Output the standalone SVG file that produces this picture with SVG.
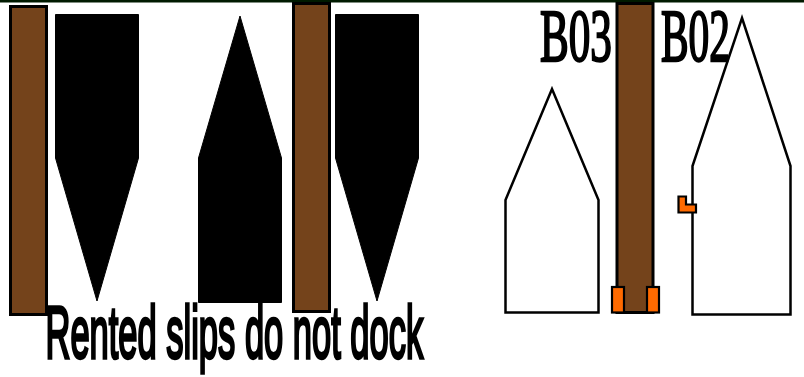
<svg xmlns="http://www.w3.org/2000/svg" width="804" height="377" viewBox="0 0 804 377">
<style>
.pier{fill:#74431b;stroke:#000;stroke-width:3}
.solid{fill:#000;stroke:#000;stroke-width:1}
.boat{fill:#fff;stroke:#000;stroke-width:2.500}
.fender{fill:#ff6a00;stroke:#000;stroke-width:2.200}
.serif{font-family:"Liberation Serif","Times New Roman",serif;font-size:74px;fill:#000;stroke:#000;stroke-width:2.400}
.sans{font-family:"Liberation Sans",Arial,sans-serif;font-size:75px;fill:#000;stroke:#000;stroke-width:3.400}
</style>
<rect width="804" height="377" fill="#fff"/>
<rect id="top-edge" x="0" y="0" width="804" height="2.500" fill="#001a00"/>
<g id="pier-1"><rect class="pier" x="10.500" y="6.500" width="36" height="308"/></g>
<g id="pier-2"><rect class="pier" x="293.500" y="3.500" width="36" height="308"/></g>
<g id="pier-3"><rect class="pier" x="617" y="3.500" width="36" height="309"/></g>
<g id="slip-1"><polygon class="solid" points="55.500,14.500 138.500,14.500 138.500,158 97,301 55.500,158"/></g>
<g id="slip-2"><polygon class="solid" points="240,16 281.500,158 281.500,302.500 198.500,302.500 198.500,158"/></g>
<g id="slip-3"><polygon class="solid" points="335.500,14.500 418.500,14.500 418.500,158 377,301 335.500,158"/></g>
<g id="boat-b03"><polygon class="boat" points="552,89 598.500,200 598.500,312.500 505.500,312.500 505.500,200"/></g>
<g id="boat-b02"><polygon class="boat" points="742,18 790.500,166 790.500,314.500 692.500,314.500 692.500,166"/></g>
<g id="fender-1"><rect class="fender" x="612" y="287" width="12" height="25.500"/></g>
<g id="fender-2"><rect class="fender" x="647" y="287" width="12" height="25.500"/></g>
<g id="cleat"><polygon class="fender" points="678.500,196.500 686,196.500 686,204.500 696,204.500 696,212.500 678.500,212.500"/></g>
<g id="label-b03"><text class="serif" transform="translate(540 61) scale(.583 1)">B03</text></g>
<g id="label-b02"><text class="serif" transform="translate(661 61) scale(.559 1)">B02</text></g>
<g id="note"><text class="sans" transform="translate(45.500 358) scale(.46 1)">Rented slips do not dock</text></g>
<g id="connectors"></g>
</svg>
